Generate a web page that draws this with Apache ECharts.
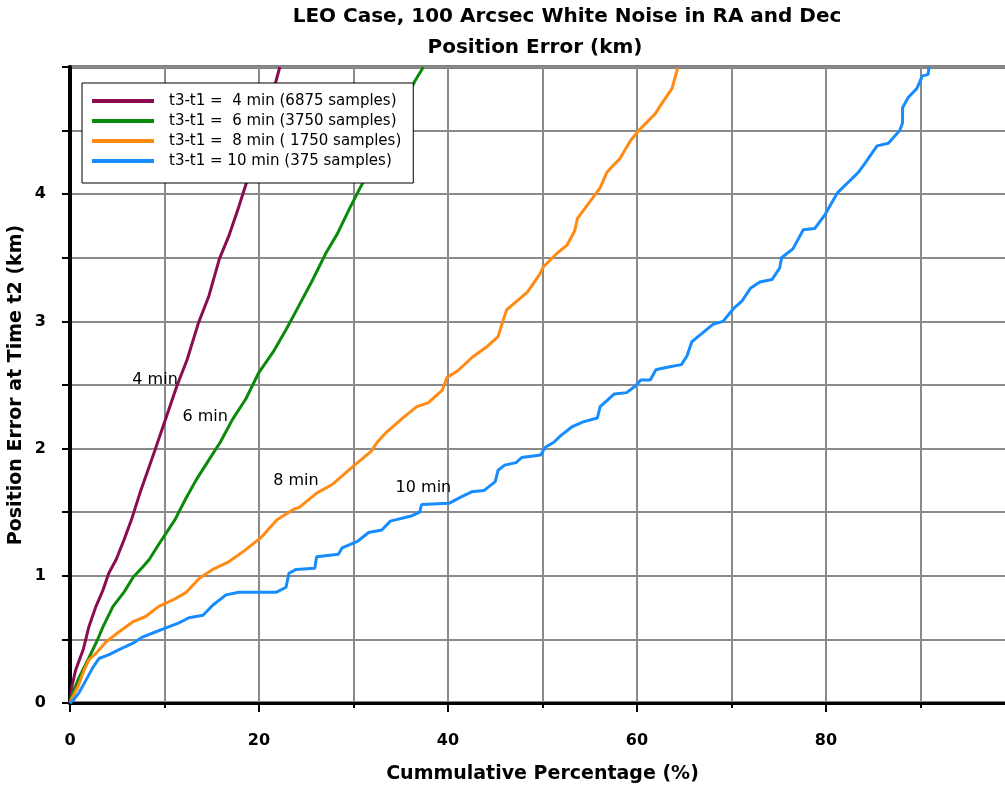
<!DOCTYPE html>
<html>
<head>
<meta charset="utf-8">
<script src="https://cdn.jsdelivr.net/npm/echarts@6/dist/echarts.min.js"></script>
<style>
  html, body { margin: 0; padding: 0; background: #fff; }
  #chart { width: 1005px; height: 789px; }
</style>
</head>
<body>
<div id="chart"></div>
<script>
// Cumulative distributions of position error at time t2, [percentage, km]
const seriesNames = [
  't3-t1 =  4 min (6875 samples)',
  't3-t1 =  6 min (3750 samples)',
  't3-t1 =  8 min ( 1750 samples)',
  't3-t1 = 10 min (375 samples)'
];
const curveLabels = ['4 min', '6 min', '8 min', '10 min'];
const labelAnchors = [[9.0, 2.54], [14.3, 2.25], [23.9, 1.75], [37.4, 1.69]];
const seriesColors = ['#8a0c52', '#0a8a0a', '#ff8a14', '#168cff'];

const data4min = [[0,0],[0.2,0.13],[0.6,0.26],[1.4,0.42],[2.0,0.6],[2.75,0.76],[3.5,0.89],[4.1,1.02],[4.9,1.13],[5.7,1.28],[6.5,1.44],[7.4,1.65],[8.2,1.82],[9.0,1.99],[10.2,2.25],[11.3,2.49],[12.4,2.70],[13.6,2.99],[14.7,3.20],[15.8,3.49],[16.8,3.67],[17.9,3.91],[18.8,4.12],[19.7,4.33],[20.5,4.55],[21.4,4.78],[22.2,5.0]];

const data6min = [[0,0],[0.3,0.08],[0.95,0.2],[1.9,0.34],[2.75,0.47],[3.5,0.6],[4.55,0.76],[5.7,0.87],[6.7,0.99],[7.7,1.07],[8.4,1.13],[9.5,1.26],[11.1,1.44],[12.2,1.6],[13.4,1.76],[14.6,1.9],[15.9,2.05],[17.2,2.23],[18.6,2.39],[20.0,2.60],[21.5,2.76],[22.9,2.94],[24.2,3.12],[25.7,3.33],[27.1,3.54],[28.3,3.69],[29.6,3.89],[30.7,4.05],[32.5,4.3],[34.5,4.6],[36.5,4.89],[37.4,5.0]];

const data8min = [[0,0],[0.3,0.05],[0.85,0.13],[1.5,0.26],[2.0,0.34],[2.75,0.39],[3.8,0.48],[5.2,0.56],[6.7,0.64],[8.0,0.68],[9.4,0.76],[10.9,0.81],[12.3,0.87],[13.7,0.98],[15.1,1.05],[16.8,1.11],[18.5,1.2],[20.2,1.3],[21.9,1.44],[23.6,1.52],[24.3,1.54],[26.1,1.65],[27.8,1.72],[29.8,1.85],[31.9,1.98],[32.5,2.05],[33.5,2.13],[35.2,2.24],[36.7,2.33],[37.9,2.36],[39.4,2.46],[39.9,2.56],[41.0,2.61],[42.6,2.72],[44.1,2.80],[45.3,2.88],[45.8,3.00],[46.2,3.09],[48.4,3.23],[49.7,3.37],[50.1,3.43],[51.6,3.54],[52.6,3.60],[53.4,3.71],[53.7,3.81],[55.0,3.94],[56.1,4.05],[56.8,4.17],[57.4,4.22],[58.2,4.28],[59.3,4.42],[60.3,4.51],[61.9,4.63],[62.6,4.71],[63.7,4.83],[64.0,4.91],[64.3,4.99]];

const data10min = [[0,0],[0.32,0.02],[0.95,0.08],[1.69,0.18],[2.43,0.28],[3.07,0.35],[4.13,0.38],[5.19,0.42],[6.67,0.47],[7.72,0.52],[9.10,0.56],[10.16,0.59],[11.53,0.63],[12.59,0.67],[14.07,0.69],[15.13,0.77],[16.51,0.85],[17.88,0.87],[19.37,0.87],[21.80,0.87],[22.86,0.91],[23.17,1.02],[23.92,1.05],[25.9,1.06],[26.1,1.15],[28.4,1.17],[28.8,1.22],[30.4,1.27],[31.6,1.34],[33.0,1.36],[33.9,1.43],[36.1,1.47],[37.0,1.50],[37.2,1.56],[40.1,1.57],[41.4,1.62],[42.5,1.66],[43.8,1.67],[45.0,1.74],[45.3,1.83],[46.0,1.87],[47.2,1.89],[47.8,1.93],[49.8,1.95],[50.3,2.01],[51.2,2.05],[51.9,2.10],[53.1,2.17],[54.3,2.21],[55.8,2.24],[56.1,2.33],[56.7,2.37],[57.6,2.43],[58.9,2.44],[59.8,2.49],[60.4,2.54],[61.4,2.54],[62.0,2.62],[63.2,2.64],[64.7,2.66],[65.3,2.73],[65.8,2.84],[66.3,2.87],[68.1,2.98],[69.1,3.00],[70.2,3.10],[71.1,3.16],[72.0,3.26],[73.0,3.31],[74.3,3.33],[75.1,3.42],[75.3,3.50],[76.5,3.57],[77.6,3.72],[78.8,3.73],[79.9,3.84],[81.2,4.01],[82.3,4.09],[83.4,4.17],[84.1,4.24],[85.4,4.38],[86.6,4.40],[87.8,4.50],[88.1,4.56],[88.1,4.68],[88.7,4.76],[89.6,4.83],[90.2,4.93],[90.8,4.94],[90.9,5.0]];

const allData = [data4min, data6min, data8min, data10min];

const xTickStep = 20;   // labelled x ticks
const yTickStep = 0.5;  // y grid spacing
const yMax = 5;
const xMax = 100;

const gridGray = '#8a8a8a';
const fontFamily = '"DejaVu Sans", "Liberation Sans", Arial, sans-serif';

const chart = echarts.init(document.getElementById('chart'), null, { renderer: 'canvas' });

const series = allData.map((d, i) => ({
  name: seriesNames[i],
  type: 'line',
  data: d,
  showSymbol: false,
  symbol: 'none',
  lineStyle: { color: seriesColors[i], width: 3 },
  itemStyle: { color: seriesColors[i] },
  z: 3,
  animation: false,
  markPoint: {
    symbol: 'circle',
    symbolSize: 0,
    silent: true,
    data: [{ coord: labelAnchors[i], value: curveLabels[i] }],
    label: {
      show: true,
      position: 'inside',
      formatter: curveLabels[i],
      color: '#000',
      fontFamily: fontFamily,
      fontSize: 16
    }
  }
}));

chart.setOption({
  animation: false,
  backgroundColor: '#fff',
  title: [
    {
      text: 'LEO Case, 100 Arcsec White Noise in RA and Dec',
      left: 562, top: 2, textAlign: 'center',
      textStyle: { fontFamily: fontFamily, fontWeight: 'bold', fontSize: 20, color: '#000' }
    },
    {
      text: 'Position Error (km)',
      left: 530, top: 33, textAlign: 'center',
      textStyle: { fontFamily: fontFamily, fontWeight: 'bold', fontSize: 20, color: '#000' }
    }
  ],
  legend: {
    orient: 'vertical',
    left: 82, top: 83,
    padding: [10, 12, 14, 10],
    backgroundColor: '#fff',
    borderColor: '#000',
    borderWidth: 1,
    borderRadius: 0,
    itemWidth: 62,
    itemHeight: 4,
    itemGap: 4,
    icon: 'rect',
    z: 10,
    data: seriesNames,
    textStyle: { fontFamily: fontFamily, fontSize: 15, lineHeight: 16, color: '#000', padding: [0, 0, 0, 10] }
  },
  grid: {
    left: 70, top: 67, width: 945, height: 636,
    containLabel: false,
    outerBoundsMode: 'none',
    show: true, borderColor: '#000', borderWidth: 3, backgroundColor: '#fff'
  },
  xAxis: {
    type: 'value',
    min: 0, max: xMax, interval: xTickStep,
    name: 'Cummulative Percentage (%)',
    nameLocation: 'middle',
    nameGap: 62,
    nameMoveOverlap: false,
    nameTextStyle: { fontFamily: fontFamily, fontWeight: 'bold', fontSize: 19, color: '#000' },
    axisLine: { show: true, onZero: false, lineStyle: { color: '#000', width: 3 } },
    axisTick: { show: true, inside: false, length: 9, lineStyle: { color: '#000', width: 2 } },
    minorTick: { show: true, splitNumber: 2, length: 5, lineStyle: { color: '#000', width: 2 } },
    axisLabel: {
      margin: 30,
      fontFamily: fontFamily, fontWeight: 'bold', fontSize: 16, color: '#000',
      formatter: v => (v < xMax ? String(v) : '')
    },
    splitLine: { show: true, lineStyle: { color: gridGray, width: 2 } },
    minorSplitLine: { show: true, lineStyle: { color: gridGray, width: 2 } }
  },
  yAxis: {
    type: 'value',
    min: 0, max: yMax, interval: yTickStep,
    name: 'Position Error at Time t2 (km)',
    nameLocation: 'middle',
    nameGap: 44,
    nameMoveOverlap: false,
    nameTextStyle: { fontFamily: fontFamily, fontWeight: 'bold', fontSize: 19, color: '#000' },
    axisLine: { show: true, onZero: false, lineStyle: { color: '#000', width: 4 } },
    axisTick: { show: true, inside: false, length: 8, lineStyle: { color: '#000', width: 2 } },
    axisLabel: {
      margin: 24,
      fontFamily: fontFamily, fontWeight: 'bold', fontSize: 16, color: '#000',
      formatter: v => (Number.isInteger(v) && v < yMax ? String(v) : '')
    },
    splitLine: { show: true, lineStyle: { color: gridGray, width: 2 } }
  },
  series: series
});
</script>
</body>
</html>
